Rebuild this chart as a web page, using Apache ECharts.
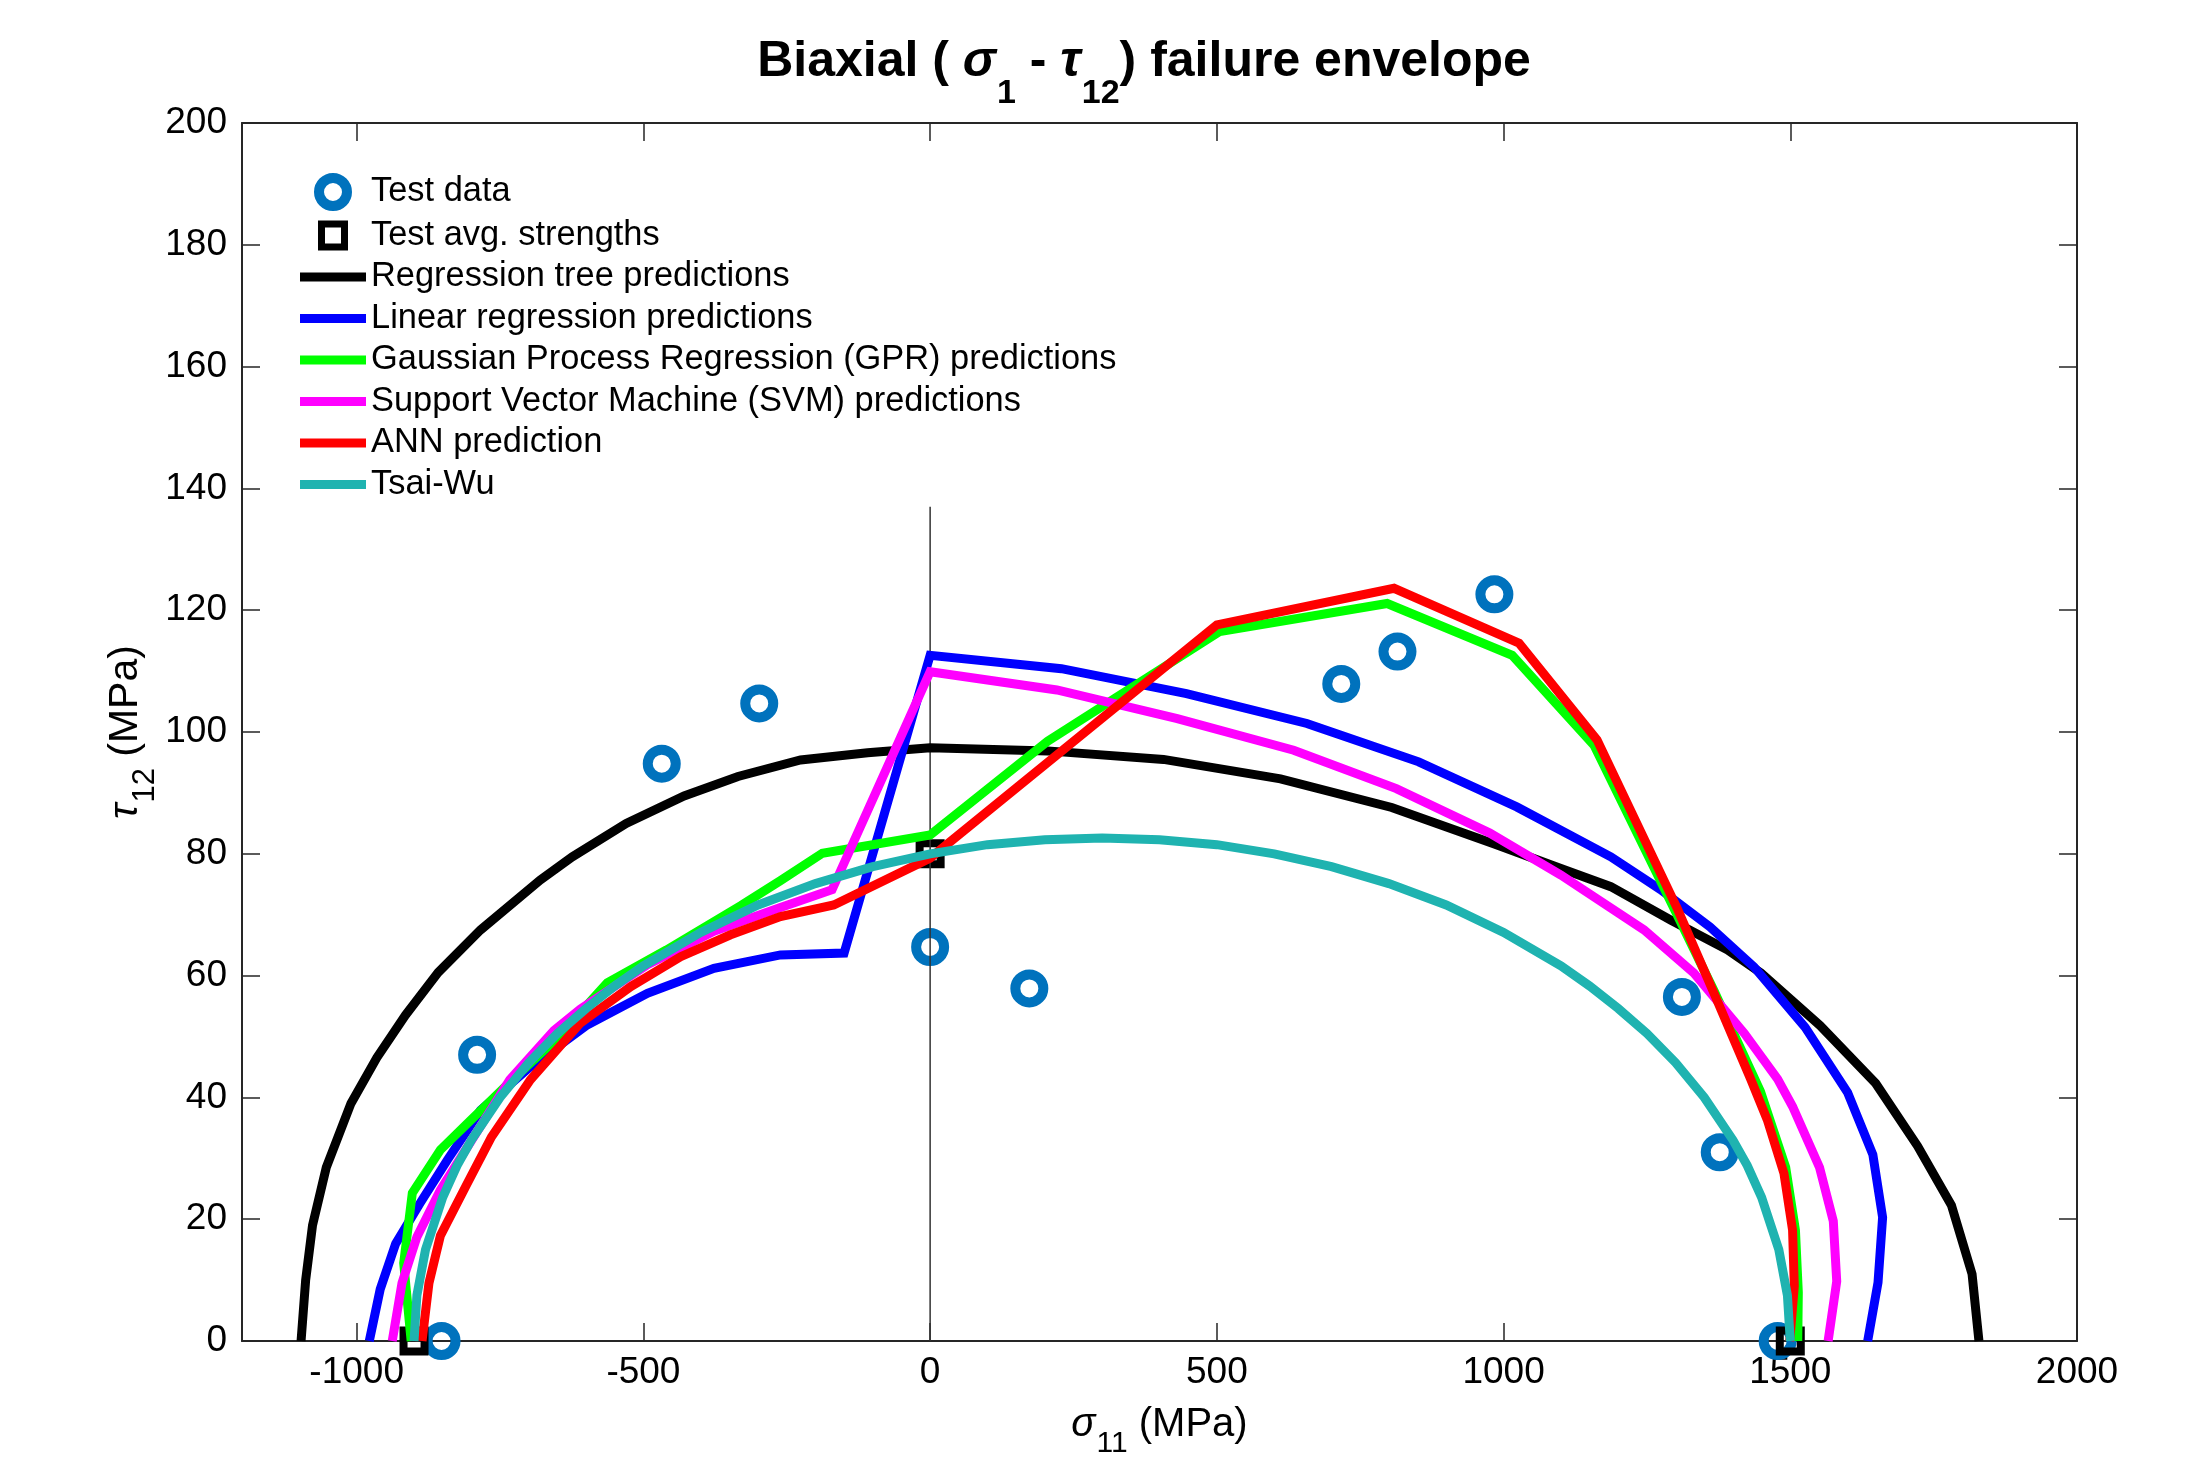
<!DOCTYPE html>
<html lang="en">

<head>
    <meta charset="UTF-8">
    <meta name="viewport" content="width=device-width, initial-scale=1.0">
    <title>Biaxial failure envelope</title>
    <script src="https://cdn.jsdelivr.net/npm/echarts@6.0.0/dist/echarts.min.js"></script>
    <style>
        html, body { margin: 0; padding: 0; background: #fff; }
        #main { width: 2193px; height: 1460px; }
    </style>
</head>

<body>
    <div id="main"></div>
    <script type="text/javascript">
        // values: [sigma11, tau12]
        var xTicks = [-1000, -500, 0, 500, 1000, 1500, 2000];

        var testData = [[-852, 0], [-790, 47], [-468, 94.8], [-298, 104.7], [0, 64.7], [173, 57.9],
            [717, 107.9], [815, 113.2], [984, 122.6], [1311, 56.5], [1377, 31], [1478, 0]];

        var testAvg = [[-900, 0], [0, 80], [1500, 0]];

        var regressionTree = [[-1097, 0], [-1089, 10], [-1077, 19], [-1053, 28.5], [-1010, 39], [-965, 46.5],
            [-915, 53.5], [-858, 60.5], [-784, 67.5], [-680, 75.7], [-624, 79.5], [-530, 85], [-429, 89.5],
            [-335, 92.7], [-226, 95.4], [-109, 96.6], [0, 97.4], [205, 96.9], [407, 95.5], [611, 92.3],
            [805, 87.6], [984, 81.6], [1100, 77.6], [1187, 74.6], [1292, 69.1], [1391, 64.2], [1449, 60.4],
            [1552, 51.8], [1649, 42.3], [1722, 32], [1781, 22.3], [1817, 11], [1829, 0]];

        var linearReg = [[-978, 0], [-959, 8.5], [-932, 16], [-889, 22.7], [-842, 29.7], [-784, 37.9],
            [-700, 44.8], [-598, 51.9], [-493, 57.1], [-377, 61.2], [-261, 63.4], [-150, 63.7], [0, 112.6],
            [229, 110.4], [447, 106.3], [657, 101.4], [852, 95.1], [1023, 87.7], [1187, 79.5], [1274, 74.1],
            [1360, 68], [1437, 61.4], [1526, 51.5], [1600, 40.8], [1644, 30.6], [1661, 20.3], [1653, 9.6],
            [1635, 0]];

        var gpr = [[-905, 0], [-918, 12.8], [-903, 24.3], [-854, 31.4], [-807, 35.7], [-733, 42.5],
            [-650, 49.8], [-563, 58.8], [-460, 64.2], [-330, 71.5], [-261, 75.6], [-188, 80.1], [0, 83.1],
            [205, 98.5], [505, 116.5], [797, 121.1], [1015, 112.6], [1158, 97.8], [1300, 70.5], [1367, 57.5],
            [1448, 41], [1492, 28.5], [1509, 18.2], [1514, 8], [1513, 0]];

        var svm = [[-938, 0], [-921, 9.5], [-895, 17.1], [-854, 24.8], [-796, 33.5], [-733, 42.9],
            [-656, 51], [-610, 54.5], [-493, 61.8], [-377, 67.3], [-261, 71.2], [-171, 74.1], [0, 109.9],
            [221, 106.9], [431, 102.2], [634, 97], [813, 90.7], [976, 83.4], [1100, 76.5], [1245, 67.5],
            [1332, 60.4], [1420, 50.5], [1478, 43], [1504, 38.5], [1551, 28.5], [1575, 19.7], [1581, 9.8],
            [1566, 0]];

        var ann = [[-886, 0], [-874, 9.5], [-854, 17.3], [-807, 25.9], [-765, 33.5], [-697, 42.9],
            [-610, 52.2], [-522, 58.2], [-435, 63.1], [-348, 66.7], [-261, 69.7], [-168, 71.6], [0, 79.3],
            [500, 117.6], [809, 123.6], [1027, 114.6], [1163, 98.7], [1303, 71], [1367, 57.1], [1431, 43],
            [1460, 36.3], [1489, 27.5], [1504, 18.2], [1507, 9], [1499, 0]];

        var tsaiWu = [[-900, 0], [-895, 7.5], [-880, 15], [-850, 23.6], [-825, 28.8], [-800, 33], [-750, 40],
            [-700, 45.7], [-650, 50.5], [-600, 54.6], [-550, 58.3], [-500, 61.6], [-400, 67.1], [-300, 71.6],
            [-200, 75.1], [-100, 77.9], [0, 80], [100, 81.5], [200, 82.3], [300, 82.6], [400, 82.3],
            [500, 81.5], [600, 80], [700, 77.9], [800, 75.1], [900, 71.6], [1000, 67.1], [1100, 61.6],
            [1150, 58.3], [1200, 54.6], [1250, 50.5], [1300, 45.7], [1350, 40], [1400, 33], [1425, 28.8],
            [1450, 23.6], [1480, 15], [1495, 7.5], [1500, 0]];

        var zeroLine = [[0, 0], [0, 137]];

        var FONT = "'Liberation Sans', Arial, Helvetica, sans-serif";
        var AXIS = '#262626';
        var lineW = 9;
        var barIcon = 'path://M0,0 L66,0 L66,9 L0,9 Z';
        var squareIcon = 'path://M0,0 L28,0 L28,28 L0,28 Z M5,5 L5,23 L23,23 L23,5 Z';

        function curve(name, data, color) {
            return {
                name: name, type: 'line', data: data, symbol: 'none', silent: true,
                itemStyle: { color: color },
                lineStyle: { color: color, width: lineW, join: 'miter' }
            };
        }

        function legendLine(name, color) {
            return { name: name, icon: barIcon, itemStyle: { color: color, borderWidth: 0, opacity: 1 } };
        }

        // axis name: italic greek letter, lowered subscript, then units
        function nameRich(size, subSize, shift) {
            return {
                g: { fontSize: size, fontStyle: 'italic', fontFamily: FONT, color: '#000', lineHeight: 48 },
                s: { fontSize: subSize, fontFamily: FONT, color: '#000', lineHeight: 48, padding: [shift * 2, 0, 0, 1] },
                t: { fontSize: size, fontFamily: FONT, color: '#000', lineHeight: 48 }
            };
        }

        function plainNumber(v) {
            return String(v);
        }

        var xAxisBase = {
            type: 'value', min: -1200, max: 2000,
            axisLine: { show: true, onZero: false, lineStyle: { color: AXIS, width: 2 } },
            axisTick: { show: true, inside: true, length: 18, customValues: xTicks, lineStyle: { color: AXIS, width: 1.5 } },
            splitLine: { show: false }
        };
        var yAxisBase = {
            type: 'value', min: 0, max: 200, interval: 20,
            axisLine: { show: true, onZero: false, lineStyle: { color: AXIS, width: 2 } },
            axisTick: { show: true, inside: true, length: 18, lineStyle: { color: AXIS, width: 1.5 } },
            splitLine: { show: false }
        };

        var myChart = echarts.init(document.getElementById('main'), null, { renderer: 'canvas' });

        myChart.setOption({
            animation: false,
            backgroundColor: '#fff',
            title: {
                text: '{b|Biaxial ( }{g|σ}{s|1}{b| - }{g|τ}{s|12}{b|) failure envelope}',
                left: 1144, top: 33, padding: 0, textAlign: 'center',
                textStyle: {
                    fontSize: 50, fontWeight: 'bold', fontFamily: FONT, color: '#000',
                    rich: {
                        b: { fontSize: 50, fontWeight: 'bold', fontFamily: FONT, color: '#000', lineHeight: 58 },
                        g: { fontSize: 50, fontWeight: 'bold', fontStyle: 'italic', fontFamily: FONT, color: '#000', lineHeight: 58 },
                        s: { fontSize: 34, fontWeight: 'bold', fontFamily: FONT, color: '#000', lineHeight: 58, padding: [64, 0, 0, 1] }
                    }
                }
            },
            legend: {
                orient: 'vertical', left: 300, top: 173, padding: 0,
                itemWidth: 66, itemHeight: 28, itemGap: 7.5,
                selectedMode: false,
                textStyle: { fontSize: 34.4, fontFamily: FONT, color: '#000', lineHeight: 34 },
                data: [
                    { name: 'Test data', icon: 'circle', itemStyle: { color: 'transparent', borderColor: '#0072BD', borderWidth: 10, opacity: 1 } },
                    { name: 'Test avg. strengths', icon: squareIcon, itemStyle: { color: '#000', borderColor: '#000', borderWidth: 2, opacity: 1 } },
                    legendLine('Regression tree predictions', '#000000'),
                    legendLine('Linear regression predictions', '#0000FF'),
                    legendLine('Gaussian Process Regression (GPR) predictions', '#00FF00'),
                    legendLine('Support Vector Machine (SVM) predictions', '#FF00FF'),
                    legendLine('ANN prediction', '#FF0000'),
                    legendLine('Tsai-Wu', '#1FB3B0')
                ]
            },
            grid: { left: 242, right: 116, top: 123, bottom: 119, containLabel: false, outerBoundsMode: 'none' },
            xAxis: [
                Object.assign({}, xAxisBase, {
                    position: 'bottom',
                    axisLabel: { customValues: xTicks, formatter: plainNumber, fontSize: 37, fontFamily: FONT, color: '#000', margin: 13 },
                    name: '{g|σ}{s|11}{t| (MPa)}',
                    nameLocation: 'middle', nameGap: 60, nameMoveOverlap: false,
                    nameTextStyle: { fontSize: 40, fontFamily: FONT, color: '#000', lineHeight: 48, rich: nameRich(40, 30, 19) }
                }),
                Object.assign({}, xAxisBase, { position: 'top', axisLabel: { show: false } })
            ],
            yAxis: [
                Object.assign({}, yAxisBase, {
                    position: 'left',
                    axisLabel: { formatter: plainNumber, fontSize: 37, fontFamily: FONT, color: '#000', margin: 15 },
                    name: '{g|τ}{s|12}{t| (MPa)}',
                    nameLocation: 'middle', nameGap: 92, nameMoveOverlap: false,
                    nameTextStyle: { fontSize: 41, fontFamily: FONT, color: '#000', lineHeight: 48, rich: nameRich(41, 31, 19) }
                }),
                Object.assign({}, yAxisBase, { position: 'right', axisLabel: { show: false } })
            ],
            series: [
                {
                    name: 'zero', type: 'line', data: zeroLine, symbol: 'none', silent: true,
                    lineStyle: { color: '#333', width: 1.5 }
                },
                {
                    name: 'Test data', type: 'scatter', data: testData, symbol: 'circle', symbolSize: 28,
                    clip: false, silent: true,
                    itemStyle: { color: 'transparent', borderColor: '#0072BD', borderWidth: 10, opacity: 1 }
                },
                {
                    name: 'Test avg. strengths', type: 'scatter', data: testAvg, symbol: 'rect', symbolSize: 21,
                    clip: false, silent: true,
                    itemStyle: { color: 'transparent', borderColor: '#000', borderWidth: 8, opacity: 1 }
                },
                curve('Regression tree predictions', regressionTree, '#000000'),
                curve('Linear regression predictions', linearReg, '#0000FF'),
                curve('Gaussian Process Regression (GPR) predictions', gpr, '#00FF00'),
                curve('Support Vector Machine (SVM) predictions', svm, '#FF00FF'),
                curve('ANN prediction', ann, '#FF0000'),
                curve('Tsai-Wu', tsaiWu, '#1FB3B0')
            ]
        });
    </script>
</body>

</html>
